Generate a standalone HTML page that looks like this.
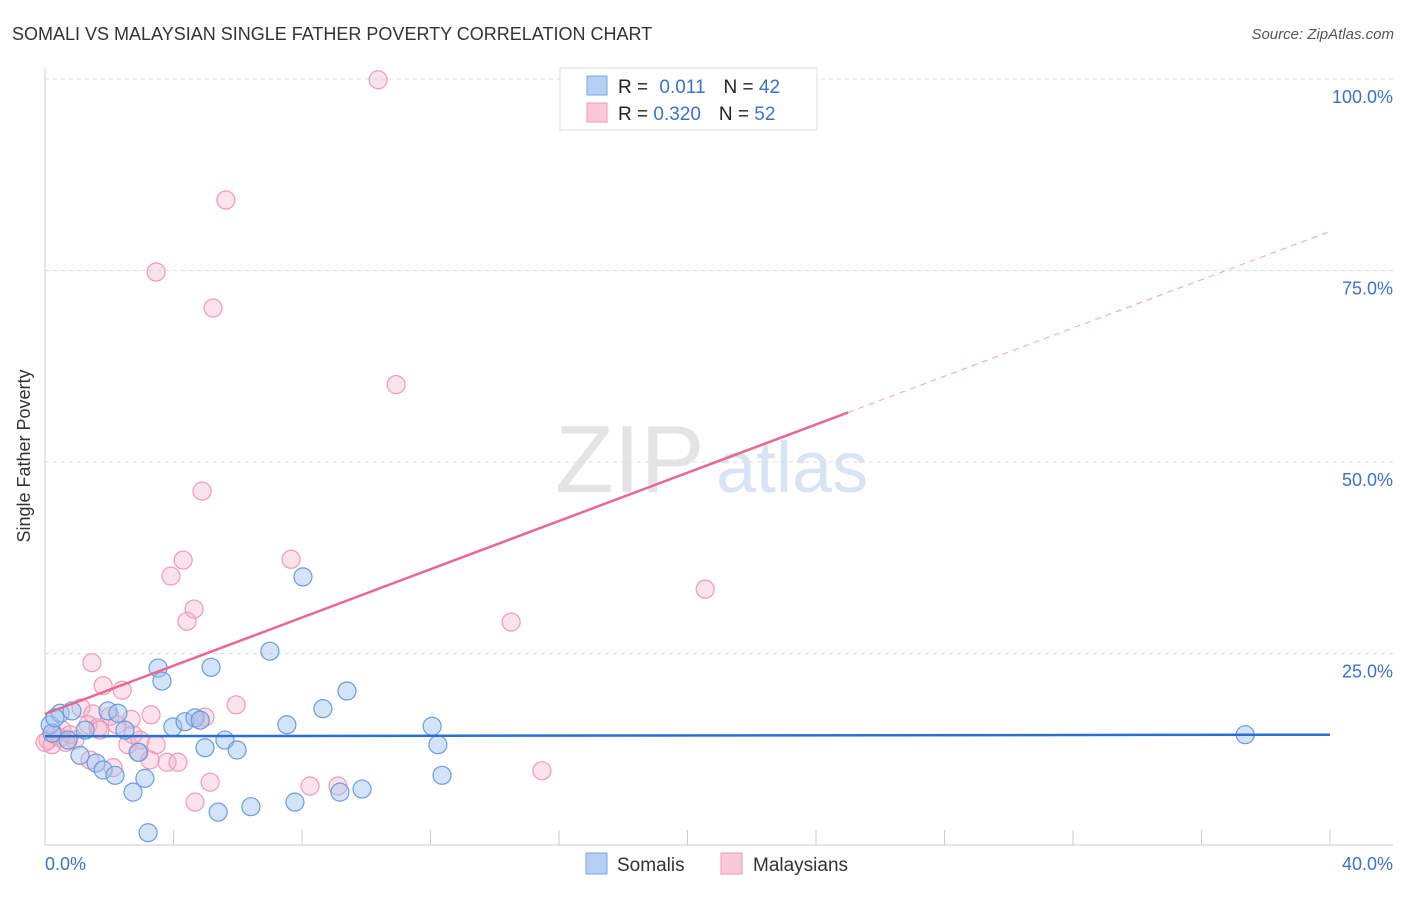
<!DOCTYPE html>
<html><head><meta charset="utf-8"><style>
body{margin:0;background:#fff;font-family:"Liberation Sans",sans-serif}
svg text{font-family:"Liberation Sans",sans-serif}
</style></head><body>
<svg id="chart" width="1406" height="892" xmlns="http://www.w3.org/2000/svg">
<text x="12" y="40" font-size="18" fill="#333">SOMALI VS MALAYSIAN SINGLE FATHER POVERTY CORRELATION CHART</text>
<text x="1394" y="39" font-size="15" fill="#555" font-style="italic" text-anchor="end">Source: ZipAtlas.com</text>
<text x="555" y="492" font-size="96" fill="#e4e4e4" font-family="Liberation Serif,serif">ZIP</text>
<text x="716" y="492" font-size="72" fill="#d6e4f6">atlas</text>
<g id="grid"></g>
<line x1="45" y1="68" x2="45" y2="845" stroke="#ccc"/>
<line x1="45" y1="845" x2="1393" y2="845" stroke="#ccc"/>
<text x="30" y="456" font-size="18" fill="#333" transform="rotate(-90 30 456)" text-anchor="middle">Single Father Poverty</text>
<text x="45" y="870" font-size="18" fill="#3b73c9">0.0%</text>
<text x="1393" y="870" font-size="18" fill="#3b73c9" text-anchor="end">40.0%</text>
<g id="points"></g>
<g id="trends"></g>
<g>
<rect x="560" y="68" width="257" height="62" fill="#fff" stroke="#ddd"/>
<rect x="587" y="76" width="20" height="19" fill="#b5d0f3" stroke="#7aa6e6"/>
<rect x="587" y="103" width="20" height="19" fill="#f9c9d7" stroke="#ef9ab6"/>
<text x="618" y="93" font-size="19" fill="#222">R = <tspan fill="#3b73c9" dx="6">0.011</tspan><tspan dx="18" fill="#222">N = </tspan><tspan fill="#3b73c9">42</tspan></text>
<text x="618" y="120" font-size="19" fill="#222">R = <tspan fill="#3b73c9">0.320</tspan><tspan dx="18" fill="#222">N = </tspan><tspan fill="#3b73c9">52</tspan></text>
</g>
<g>
<rect x="586" y="853" width="21" height="21" fill="#b5d0f3" stroke="#7aa6e6"/>
<text x="617" y="871" font-size="19" fill="#333">Somalis</text>
<rect x="721" y="853" width="21" height="21" fill="#f9c9d7" stroke="#ef9ab6"/>
<text x="753" y="871" font-size="19" fill="#333">Malaysians</text>
</g>
</svg>
<script>
const yTicks=[25,50,75,100];
const yTickLabels=["25.0%","50.0%","75.0%","100.0%"];
const xTicks=[0,4,8,12,16,20,24,28,32,36,40];
const somaliX=[0.16,0.47,0.84,0.22,0.72,1.25,1.09,1.59,1.81,2.18,1.96,2.27,2.49,2.74,3.11,2.90,3.52,3.64,3.21,3.98,4.36,4.67,4.83,4.98,5.17,5.39,5.60,5.98,6.41,7.00,7.53,7.78,8.03,8.65,9.18,9.40,9.87,12.05,12.23,12.36,37.36,0.31];
const somaliY=[15.7,17.2,17.5,14.6,13.7,15.0,11.7,10.7,9.8,9.1,17.5,17.2,15.0,6.9,8.7,12.1,23.1,21.4,1.6,15.4,16.1,16.6,16.3,12.7,23.2,4.3,13.7,12.4,5.0,25.3,15.7,5.6,35.0,17.8,6.9,20.1,7.3,15.5,13.1,9.1,14.4,16.6];
const malayX=[10.37,5.63,3.46,5.23,10.93,4.89,4.30,3.92,7.66,4.64,4.42,20.55,14.51,1.46,1.81,2.40,5.95,3.30,1.12,1.49,2.02,2.68,4.98,4.83,0.09,0.31,0.53,0.78,0.93,1.34,1.65,2.58,2.96,3.46,2.93,3.80,4.14,5.14,4.67,8.25,9.12,15.47,2.12,1.40,0.00,0.22,0.47,0.65,1.71,2.24,2.74,3.27];
const malayY=[99.9,84.2,74.8,70.1,60.1,46.2,37.2,35.1,37.3,30.8,29.2,33.4,29.1,23.8,20.8,20.2,18.3,17.0,17.9,17.1,16.8,16.4,16.7,16.3,13.7,14.4,15.0,14.4,13.7,15.7,15.3,13.1,13.7,13.1,12.1,10.8,10.8,8.2,5.6,7.7,7.7,9.7,10.1,11.1,13.4,13.1,14.0,13.4,15.0,15.7,14.4,11.1];
const somaliTrend=[14.2,14.4];
const malayTrend=[17.1,80.1];
const malaySolidEnd=25;

const NS="http://www.w3.org/2000/svg";
const X=v=>45+v/40*1285;
const Y=v=>845-v/100*766;
function mk(tag,attrs,parent){const e=document.createElementNS(NS,tag);for(const k in attrs)e.setAttribute(k,attrs[k]);parent.appendChild(e);return e;}
const grid=document.getElementById('grid');
yTicks.forEach((t,i)=>{
  const l=mk('line',{x1:45,x2:1393,y1:Y(t),y2:Y(t),stroke:'#ddd','stroke-dasharray':'4,4'},grid);
  
  
  const tx=mk('text',{x:1393,y:Y(t)+24,'font-size':18,fill:'#3b73c9','text-anchor':'end'},grid);
  tx.textContent=yTickLabels[i];
  
  
});
xTicks.forEach(t=>{
  const l=mk('line',{x1:X(t),x2:X(t),y1:830,y2:845,stroke:'#ccc'},grid);
  
  
});
const pts=document.getElementById('points');
malayX.forEach((x,i)=>{
  const c=mk('circle',{cx:X(x),cy:Y(malayY[i]),r:9,fill:'rgba(246,176,198,0.35)',stroke:'#ee9ab5','stroke-width':1.2},pts);
  
  
});
somaliX.forEach((x,i)=>{
  const c=mk('circle',{cx:X(x),cy:Y(somaliY[i]),r:9,fill:'rgba(160,196,240,0.45)',stroke:'#6a9be0','stroke-width':1.2},pts);
  
  
});
const tr=document.getElementById('trends');
const b=mk('line',{x1:X(0),y1:Y(somaliTrend[0]),x2:X(40),y2:Y(somaliTrend[1]),stroke:'#2a6fd4','stroke-width':2.5},tr);


const my=x=>malayTrend[0]+(malayTrend[1]-malayTrend[0])*x/40;
const p1=mk('line',{x1:X(0),y1:Y(my(0)),x2:X(malaySolidEnd),y2:Y(my(malaySolidEnd)),stroke:'#e8688f','stroke-width':2.5},tr);


const p2=mk('line',{x1:X(malaySolidEnd),y1:Y(my(malaySolidEnd)),x2:X(40),y2:Y(my(40)),stroke:'#eea0b8','stroke-width':1,'stroke-dasharray':'6,5'},tr);


</script>
</body></html>
